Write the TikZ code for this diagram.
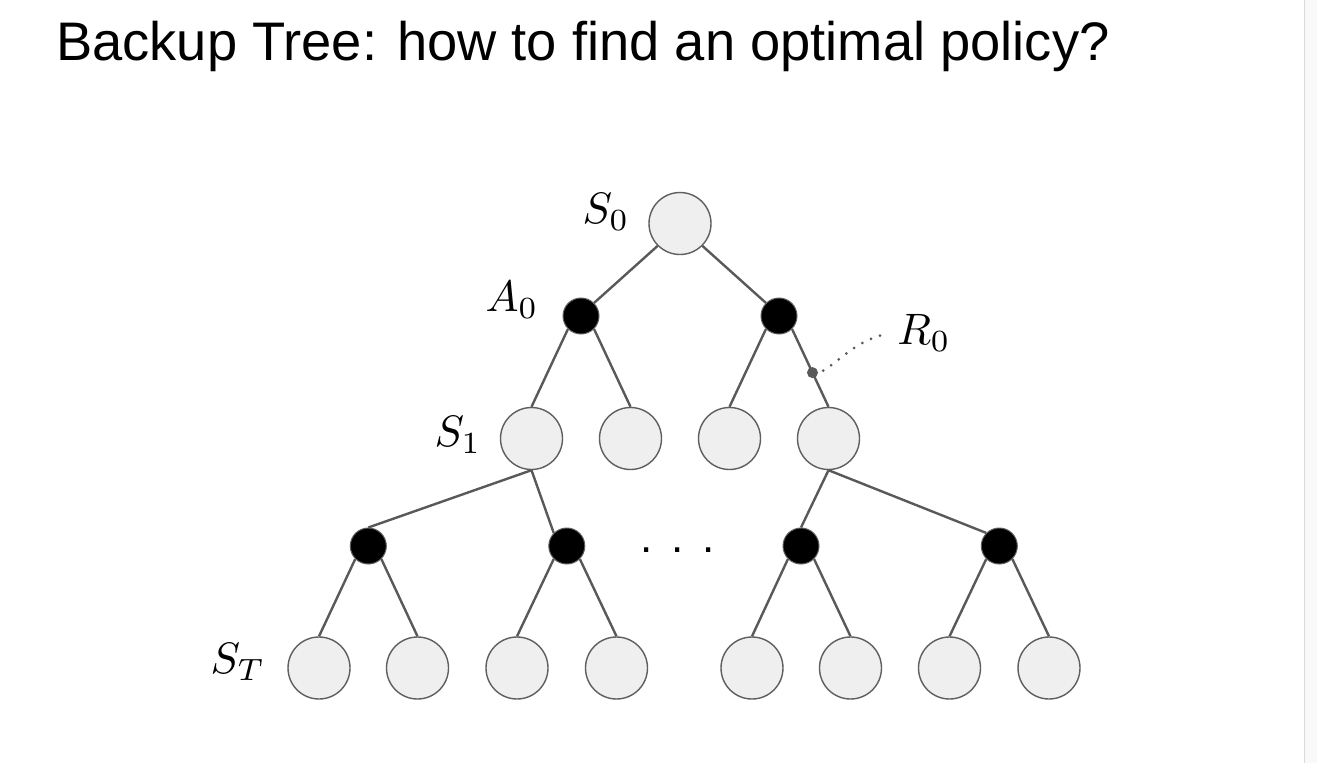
\documentclass[tikz,border=0pt]{standalone}
\usepackage{graphicx}
\usepackage{fontspec}
\setmainfont{Liberation Sans}
\usetikzlibrary{calc}
\definecolor{nodefill}{HTML}{EFEFEF}
\definecolor{nodeborder}{HTML}{5F5F5F}
\definecolor{edgecol}{HTML}{595959}
\definecolor{stripfill}{HTML}{F9F9F9}
\definecolor{stripline}{HTML}{DADADA}
\newcommand{\biglbl}[1]{\scalebox{4.4}{$#1$}}
\begin{document}
\begin{tikzpicture}[x=1pt,y=-1pt,
  statenode/.style={circle,draw=nodeborder,fill=nodefill,line width=1.4pt,minimum size=62pt,inner sep=0pt},
  actnode/.style={circle,draw=nodeborder,fill=black,line width=1pt,minimum size=36pt,inner sep=0pt},
  edge/.style={draw=edgecol,line width=2.4pt},
  lbl/.style={font=\normalsize,inner sep=0pt}]
\useasboundingbox (0,0) rectangle (1317,763);
\fill[white] (0,0) rectangle (1305,763);
\fill[stripfill] (1305,0) rectangle (1317,763);
\draw[stripline,line width=1.5pt] (1304.5,0) -- (1304.5,763);

\node[anchor=base west,inner sep=0pt,font=\fontsize{54.3}{60}\selectfont] (title) at (56,60) {Backup Tree: how to find an optimal policy?};

% level 0
\node[statenode] (s0) at (680,223.5) {};
% level 1 actions
\node[actnode] (b1) at (581,316) {};
\node[actnode] (b2) at (779,316) {};
% level 2 states
\node[statenode] (s1) at (531.5,438.5) {};
\node[statenode] (s2) at (630.5,438.5) {};
\node[statenode] (s3) at (729.5,438.5) {};
\node[statenode] (s4) at (828.5,438.5) {};
% level 3 actions
\node[actnode] (c1) at (368.3,546) {};
\node[actnode] (c2) at (566.8,546) {};
\node[actnode] (c3) at (801,546) {};
\node[actnode] (c4) at (999.3,546) {};
% leaves
\node[statenode] (l1) at (319,668) {};
\node[statenode] (l2) at (417.5,668) {};
\node[statenode] (l3) at (517,668) {};
\node[statenode] (l4) at (616.5,668) {};
\node[statenode] (l5) at (752,668) {};
\node[statenode] (l6) at (850.5,668) {};
\node[statenode] (l7) at (949.5,668) {};
\node[statenode] (l8) at (1049,668) {};

% edges
\draw[edge] (s0.south west) -- (b1.north east);
\draw[edge] (s0.south east) -- (b2.north west);
\draw[edge] (b1.south west) -- (s1.north);
\draw[edge] (b1.south east) -- (s2.north);
\draw[edge] (b2.south west) -- (s3.north);
\draw[edge] (b2.south east) -- (s4.north);
\draw[edge] (s1.south) -- (c1.north);
\draw[edge] (s1.south) -- (c2.north west);
\draw[edge] (s4.south) -- (c3.north);
\draw[edge] (s4.south) -- (c4.north west);
\draw[edge] (c1.south west) -- (l1.north);
\draw[edge] (c1.south east) -- (l2.north);
\draw[edge] (c2.south west) -- (l3.north);
\draw[edge] (c2.south east) -- (l4.north);
\draw[edge] (c3.south west) -- (l5.north);
\draw[edge] (c3.south east) -- (l6.north);
\draw[edge] (c4.south west) -- (l7.north);
\draw[edge] (c4.south east) -- (l8.north);

% reward marker
\node[circle,fill=edgecol,minimum size=11pt,inner sep=0pt] (rdot) at ($(b2.south east)!0.56!(s4.north)$) {};
\node[lbl] (r0) at (924,333) {\biglbl{R_0}};
\coordinate (rend) at (887,334);
\draw[edgecol,line width=3pt,line cap=round,dash pattern=on 0pt off 9.6pt] (rdot.east) ++(5,-2) .. controls (838,362) and (858,339) .. (rend);

% labels
\node[lbl] (ls0) at (606,212) {\biglbl{S_0}};
\node[lbl] (la0) at (512,300) {\biglbl{A_0}};
\node[lbl] (ls1) at (458,435) {\biglbl{S_1}};
\node[lbl] (lst) at (238,662) {\biglbl{S_T}};
\node[lbl,font=\fontsize{44}{50}\selectfont] (dots) at (677.5,550) {.\hspace{0.43em}.\hspace{0.43em}.};
\end{tikzpicture}
\end{document}
